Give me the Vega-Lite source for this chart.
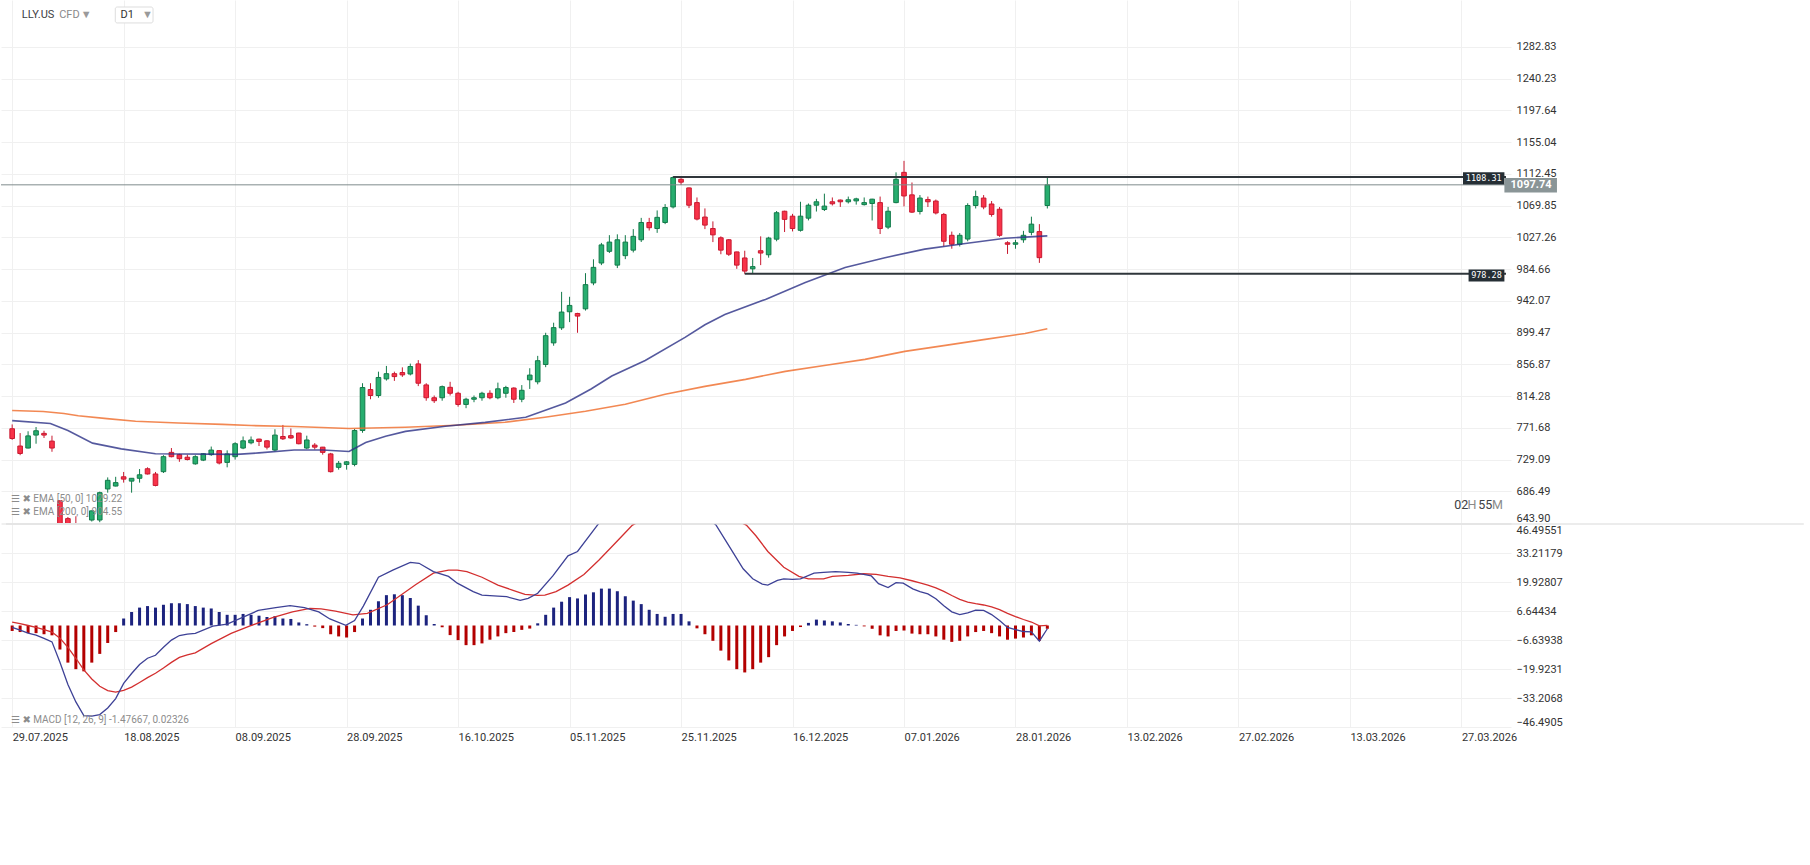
{
  "$schema": "https://vega.github.io/schema/vega-lite/v6.json",
  "padding": 0,
  "background": "white",
  "spacing": 0,
  "config": {
    "view": {"stroke": null},
    "font": "Roboto",
    "axis": {"labelFont": "Roboto", "labelColor": "#333333", "labelFontSize": 11, "gridColor": "#f0f0f0", "gridWidth": 1, "ticks": false, "domain": false, "labelOverlap": false}
  },
  "datasets": {
    "candles": [
      {"i":0,"o":770.4,"h":776.2,"l":755.5,"c":757.3,"m":-2.5},
      {"i":1,"o":747.2,"h":764.6,"l":734.9,"c":737.2,"m":-3},
      {"i":2,"o":744.5,"h":767.0,"l":744.0,"c":760.8,"m":-3.5},
      {"i":3,"o":761.9,"h":772.7,"l":750.3,"c":767.7,"m":-3.5},
      {"i":4,"o":764.2,"h":767.7,"l":758.0,"c":761.9,"m":-4},
      {"i":5,"o":753.8,"h":761.1,"l":739.5,"c":744.5,"m":-4.5},
      {"i":6,"o":673.8,"h":673.8,"l":623.8,"c":640.2,"m":-11},
      {"i":7,"o":649.8,"h":652.0,"l":628.0,"c":636.0,"m":-17},
      {"i":8,"o":641.0,"h":652.9,"l":630.0,"c":634.0,"m":-20},
      {"i":9,"o":634.0,"h":642.0,"l":625.0,"c":638.0,"m":-21},
      {"i":10,"o":647.9,"h":660.5,"l":645.9,"c":660.2,"m":-17},
      {"i":11,"o":647.9,"h":686.0,"l":645.0,"c":684.6,"m":-13},
      {"i":12,"o":689.6,"h":705.1,"l":684.6,"c":701.2,"m":-8},
      {"i":13,"o":693.5,"h":705.9,"l":693.0,"c":698.1,"m":-3},
      {"i":14,"o":705.9,"h":712.4,"l":698.1,"c":702.8,"m":3.2},
      {"i":15,"o":700.1,"h":703.9,"l":684.6,"c":703.9,"m":6.2},
      {"i":16,"o":703.9,"h":716.3,"l":698.1,"c":708.6,"m":8.2},
      {"i":17,"o":716.7,"h":718.6,"l":709.0,"c":709.7,"m":8.9},
      {"i":18,"o":709.7,"h":712.4,"l":693.1,"c":694.3,"m":8.2},
      {"i":19,"o":712.8,"h":734.9,"l":711.0,"c":732.9,"m":9.5},
      {"i":20,"o":738.7,"h":744.5,"l":732.0,"c":732.9,"m":10.2},
      {"i":21,"o":735.6,"h":736.8,"l":726.0,"c":730.2,"m":10.2},
      {"i":22,"o":732.2,"h":735.6,"l":727.9,"c":729.1,"m":9.8},
      {"i":23,"o":723.3,"h":734.9,"l":722.1,"c":732.9,"m":8.9},
      {"i":24,"o":728.3,"h":737.5,"l":727.0,"c":736.8,"m":8.2},
      {"i":25,"o":735.6,"h":746.5,"l":734.0,"c":741.8,"m":7.8},
      {"i":26,"o":741.0,"h":741.5,"l":722.5,"c":724.4,"m":6.2},
      {"i":27,"o":725.2,"h":741.4,"l":718.6,"c":736.6,"m":4.9},
      {"i":28,"o":732.9,"h":752.3,"l":729.0,"c":750.3,"m":4.9},
      {"i":29,"o":744.5,"h":760.0,"l":743.0,"c":754.2,"m":5.3},
      {"i":30,"o":751.5,"h":760.0,"l":749.5,"c":755.3,"m":4.9},
      {"i":31,"o":756.5,"h":757.0,"l":747.2,"c":753.4,"m":4.5},
      {"i":32,"o":754.2,"h":755.0,"l":742.6,"c":745.7,"m":3.9},
      {"i":33,"o":741.8,"h":769.7,"l":740.0,"c":761.9,"m":4.3},
      {"i":34,"o":760.0,"h":775.5,"l":755.3,"c":756.9,"m":3.2},
      {"i":35,"o":761.1,"h":770.8,"l":757.0,"c":758.0,"m":3.0},
      {"i":36,"o":764.6,"h":765.0,"l":749.5,"c":750.3,"m":1.4},
      {"i":37,"o":744.5,"h":761.1,"l":743.0,"c":755.3,"m":0.6},
      {"i":38,"o":748.4,"h":751.1,"l":742.6,"c":745.7,"m":-0.5},
      {"i":39,"o":745.7,"h":746.0,"l":735.6,"c":738.7,"m":-1.2},
      {"i":40,"o":736.6,"h":738.0,"l":711.7,"c":712.8,"m":-4},
      {"i":41,"o":718.6,"h":727.1,"l":715.5,"c":724.0,"m":-5},
      {"i":42,"o":722.5,"h":727.0,"l":715.5,"c":726.0,"m":-5.5},
      {"i":43,"o":722.5,"h":770.0,"l":720.0,"c":768.0,"m":-3},
      {"i":44,"o":768.0,"h":831.5,"l":765.0,"c":825.7,"m":3.2},
      {"i":45,"o":823.0,"h":831.5,"l":810.0,"c":815.0,"m":7.2},
      {"i":46,"o":815.0,"h":847.0,"l":812.0,"c":839.2,"m":11.1},
      {"i":47,"o":837.3,"h":854.7,"l":835.0,"c":844.3,"m":13.9},
      {"i":48,"o":844.3,"h":847.0,"l":834.6,"c":840.4,"m":14.3},
      {"i":49,"o":845.8,"h":852.8,"l":840.0,"c":842.7,"m":13.9},
      {"i":50,"o":843.9,"h":857.8,"l":842.0,"c":853.9,"m":12.6},
      {"i":51,"o":857.4,"h":862.5,"l":827.6,"c":831.5,"m":9.1},
      {"i":52,"o":829.2,"h":831.5,"l":808.0,"c":812.0,"m":4.7},
      {"i":53,"o":812.0,"h":815.0,"l":805.0,"c":808.0,"m":0.7},
      {"i":54,"o":812.0,"h":828.4,"l":808.0,"c":826.9,"m":-0.8},
      {"i":55,"o":826.0,"h":833.4,"l":815.0,"c":818.0,"m":-4.4},
      {"i":56,"o":818.0,"h":820.0,"l":800.0,"c":803.0,"m":-6.7},
      {"i":57,"o":803.0,"h":812.0,"l":798.0,"c":810.0,"m":-9},
      {"i":58,"o":810.0,"h":815.0,"l":806.0,"c":812.0,"m":-9},
      {"i":59,"o":812.0,"h":820.0,"l":808.0,"c":818.0,"m":-8.2},
      {"i":60,"o":818.0,"h":822.0,"l":810.0,"c":812.0,"m":-6.5},
      {"i":61,"o":812.0,"h":832.3,"l":810.0,"c":824.0,"m":-5},
      {"i":62,"o":818.0,"h":828.0,"l":812.0,"c":825.7,"m":-3.5},
      {"i":63,"o":825.0,"h":826.0,"l":805.0,"c":810.0,"m":-3},
      {"i":64,"o":810.0,"h":829.0,"l":806.0,"c":822.0,"m":-2},
      {"i":65,"o":836.1,"h":851.6,"l":823.8,"c":842.4,"m":-1.4},
      {"i":66,"o":833.4,"h":868.2,"l":830.0,"c":861.7,"m":1.0},
      {"i":67,"o":856.6,"h":899.2,"l":853.0,"c":895.3,"m":4.9},
      {"i":68,"o":885.6,"h":912.7,"l":881.8,"c":906.1,"m":8.2},
      {"i":69,"o":905.8,"h":954.1,"l":903.0,"c":927.0,"m":10.9},
      {"i":70,"o":927.4,"h":947.5,"l":913.5,"c":935.9,"m":13.0},
      {"i":71,"o":925.1,"h":926.0,"l":899.2,"c":921.6,"m":12.4},
      {"i":72,"o":931.3,"h":979.2,"l":929.0,"c":963.8,"m":14.2},
      {"i":73,"o":966.1,"h":997.8,"l":963.0,"c":987.0,"m":15.2},
      {"i":74,"o":992.8,"h":1019.8,"l":990.0,"c":1017.1,"m":16.9},
      {"i":75,"o":1008.5,"h":1030.2,"l":1006.2,"c":1020.9,"m":16.9},
      {"i":76,"o":990.0,"h":1031.3,"l":986.0,"c":1024.0,"m":15.7},
      {"i":77,"o":1002.7,"h":1030.2,"l":998.0,"c":1020.9,"m":13.4},
      {"i":78,"o":1010.1,"h":1038.3,"l":1007.0,"c":1028.6,"m":11.4},
      {"i":79,"o":1024.0,"h":1053.4,"l":1021.0,"c":1047.2,"m":9.8},
      {"i":80,"o":1047.2,"h":1053.4,"l":1036.4,"c":1040.2,"m":7.2},
      {"i":81,"o":1039.1,"h":1063.4,"l":1033.3,"c":1054.1,"m":5.3},
      {"i":82,"o":1047.2,"h":1071.9,"l":1045.0,"c":1067.3,"m":4.0},
      {"i":83,"o":1068.1,"h":1109.1,"l":1066.0,"c":1107.5,"m":5.3},
      {"i":84,"o":1105.2,"h":1106.7,"l":1097.5,"c":1101.3,"m":5.3},
      {"i":85,"o":1093.6,"h":1094.0,"l":1066.5,"c":1070.4,"m":1.9},
      {"i":86,"o":1073.9,"h":1080.8,"l":1050.0,"c":1051.8,"m":-1.3},
      {"i":87,"o":1054.5,"h":1066.1,"l":1038.3,"c":1043.7,"m":-4},
      {"i":88,"o":1039.1,"h":1048.7,"l":1020.9,"c":1030.6,"m":-7},
      {"i":89,"o":1026.7,"h":1028.6,"l":1004.6,"c":1010.1,"m":-11.5},
      {"i":90,"o":1024.0,"h":1025.0,"l":1002.3,"c":1004.6,"m":-16},
      {"i":91,"o":1007.7,"h":1008.0,"l":985.0,"c":990.0,"m":-20},
      {"i":92,"o":999.6,"h":1009.3,"l":978.3,"c":982.0,"m":-21.5},
      {"i":93,"o":985.0,"h":999.6,"l":978.5,"c":988.0,"m":-20},
      {"i":94,"o":1009.3,"h":1028.6,"l":990.0,"c":1006.2,"m":-17},
      {"i":95,"o":1003.9,"h":1028.0,"l":1000.0,"c":1026.3,"m":-14.5},
      {"i":96,"o":1024.8,"h":1062.6,"l":1022.0,"c":1060.3,"m":-9},
      {"i":97,"o":1062.3,"h":1063.0,"l":1034.4,"c":1051.4,"m":-5},
      {"i":98,"o":1055.7,"h":1058.8,"l":1035.2,"c":1039.1,"m":-2.5},
      {"i":99,"o":1036.7,"h":1075.0,"l":1035.0,"c":1055.7,"m":-0.7},
      {"i":100,"o":1053.0,"h":1072.7,"l":1050.0,"c":1070.4,"m":1.2},
      {"i":101,"o":1070.4,"h":1078.9,"l":1061.9,"c":1075.0,"m":2.7},
      {"i":102,"o":1064.6,"h":1085.9,"l":1062.6,"c":1069.2,"m":2.3},
      {"i":103,"o":1075.0,"h":1080.8,"l":1070.0,"c":1072.3,"m":1.9},
      {"i":104,"o":1077.3,"h":1078.0,"l":1068.1,"c":1075.0,"m":1.4},
      {"i":105,"o":1075.0,"h":1082.0,"l":1072.7,"c":1077.7,"m":0.7},
      {"i":106,"o":1076.2,"h":1080.4,"l":1071.2,"c":1078.9,"m":0.3},
      {"i":107,"o":1071.2,"h":1080.8,"l":1070.0,"c":1073.9,"m":-0.4},
      {"i":108,"o":1072.7,"h":1079.0,"l":1049.9,"c":1078.5,"m":-1.5},
      {"i":109,"o":1073.9,"h":1082.0,"l":1031.7,"c":1039.1,"m":-4.5},
      {"i":110,"o":1041.0,"h":1068.1,"l":1038.3,"c":1062.3,"m":-5},
      {"i":111,"o":1073.9,"h":1114.5,"l":1073.0,"c":1105.2,"m":-2.5},
      {"i":112,"o":1114.5,"h":1129.9,"l":1068.8,"c":1082.8,"m":-2.3},
      {"i":113,"o":1084.3,"h":1100.9,"l":1060.0,"c":1061.1,"m":-3.7},
      {"i":114,"o":1062.0,"h":1084.0,"l":1058.0,"c":1080.0,"m":-4},
      {"i":115,"o":1078.0,"h":1082.0,"l":1068.0,"c":1075.0,"m":-4},
      {"i":116,"o":1076.0,"h":1078.0,"l":1058.0,"c":1060.0,"m":-5},
      {"i":117,"o":1058.0,"h":1060.0,"l":1015.0,"c":1022.0,"m":-6.5},
      {"i":118,"o":1030.0,"h":1035.0,"l":1012.0,"c":1018.0,"m":-7.5},
      {"i":119,"o":1018.0,"h":1033.0,"l":1015.0,"c":1030.0,"m":-7},
      {"i":120,"o":1025.0,"h":1073.0,"l":1022.0,"c":1070.0,"m":-5},
      {"i":121,"o":1070.0,"h":1090.0,"l":1066.0,"c":1082.0,"m":-3},
      {"i":122,"o":1080.0,"h":1084.0,"l":1065.0,"c":1068.0,"m":-2.5},
      {"i":123,"o":1072.0,"h":1076.0,"l":1055.0,"c":1058.0,"m":-3.5},
      {"i":124,"o":1065.0,"h":1068.0,"l":1028.0,"c":1030.0,"m":-5},
      {"i":125,"o":1020.0,"h":1022.0,"l":1005.0,"c":1018.0,"m":-6.5},
      {"i":126,"o":1018.0,"h":1024.0,"l":1012.0,"c":1020.0,"m":-6},
      {"i":127,"o":1024.0,"h":1036.0,"l":1020.0,"c":1030.0,"m":-5.5},
      {"i":128,"o":1034.0,"h":1055.0,"l":1030.0,"c":1045.0,"m":-4.5},
      {"i":129,"o":1035.0,"h":1045.0,"l":993.0,"c":1000.0,"m":-7},
      {"i":130,"o":1070.0,"h":1108.0,"l":1066.0,"c":1097.74,"m":-1.5}
    ],
    "ema50": [
      {"i":0,"v":781.3},{"i":4.8,"v":777.4},{"i":7,"v":768},{"i":10.1,"v":751.1},{"i":13.7,"v":743.4},{"i":18,"v":736.8},
      {"i":28.2,"v":736.0},{"i":31,"v":738},{"i":35.4,"v":741.8},{"i":39,"v":741.8},{"i":42.3,"v":739.9},{"i":44.4,"v":752},
      {"i":46.9,"v":760.3},{"i":49.4,"v":766.9},{"i":54.4,"v":773.7},{"i":59.4,"v":779.0},{"i":64.5,"v":785.8},{"i":69.5,"v":805},
      {"i":72.7,"v":823.8},{"i":75.3,"v":841.2},{"i":79.5,"v":862},{"i":84.5,"v":893},{"i":87,"v":910},{"i":89.5,"v":923.7},
      {"i":94.6,"v":944},{"i":99.6,"v":966.6},{"i":104.6,"v":986.7},{"i":109.6,"v":1000},{"i":114.6,"v":1011.5},{"i":119.7,"v":1018.9},
      {"i":124.7,"v":1026},{"i":130,"v":1029.22}
    ],
    "ema200": [
      {"i":0,"v":794.8},{"i":3.9,"v":793.6},{"i":6.5,"v":790.9},{"i":8.3,"v":787.8},{"i":11.9,"v":784.0},{"i":15.5,"v":780.5},
      {"i":20.9,"v":778.2},{"i":26.4,"v":776.2},{"i":30,"v":774.7},{"i":35.4,"v":773.5},{"i":42.3,"v":770.8},{"i":49.4,"v":772.4},
      {"i":55.7,"v":775.1},{"i":61.9,"v":779.1},{"i":66.9,"v":785.8},{"i":72,"v":793.8},{"i":77,"v":803.2},{"i":82,"v":816.6},
      {"i":87,"v":827.3},{"i":92.1,"v":836.7},{"i":97.1,"v":847.4},{"i":102.2,"v":855.5},{"i":107.1,"v":863.5},{"i":112.1,"v":874.2},
      {"i":117.2,"v":882.3},{"i":122.2,"v":890.3},{"i":127.2,"v":898.3},{"i":130,"v":904.55}
    ],
    "macd": [
      {"i":0,"v":-0.9},{"i":1,"v":-2.15},{"i":2,"v":-3.5},{"i":3,"v":-4.4},{"i":4,"v":-5.9},{"i":5,"v":-7.5},{"i":6,"v":-16.8},
      {"i":7,"v":-27.0},{"i":8,"v":-35.0},{"i":9,"v":-41.3},{"i":10,"v":-41.5},{"i":11,"v":-40.8},{"i":12,"v":-37.8},{"i":13,"v":-33.5},
      {"i":14,"v":-26.5},{"i":15,"v":-22.0},{"i":16,"v":-17.9},{"i":17,"v":-15.0},{"i":18,"v":-13.65},{"i":19,"v":-10.0},{"i":20,"v":-6.7},
      {"i":21,"v":-4.6},{"i":22,"v":-3.9},{"i":23,"v":-3.6},{"i":25.2,"v":-0.3},{"i":27,"v":0.6},
      {"i":30.9,"v":6.9},{"i":33.1,"v":8.2},{"i":34.9,"v":9.1},{"i":36.7,"v":8.2},{"i":38.5,"v":6.2},{"i":39.9,"v":3.0},{"i":41.9,"v":0.05},
      {"i":43,"v":2.3},{"i":44.1,"v":8.9},{"i":46,"v":22.1},{"i":47.8,"v":25.4},{"i":50,"v":28.9},{"i":51.1,"v":28.5},{"i":52.9,"v":24.7},
      {"i":54.8,"v":22.5},{"i":55.9,"v":19.4},{"i":57.9,"v":15.5},{"i":59,"v":13.9},{"i":61,"v":13.5},{"i":62.1,"v":13.2},{"i":63.8,"v":11.5},
      {"i":64.8,"v":12.4},{"i":66,"v":14.8},{"i":67.9,"v":22.7},{"i":69.8,"v":31.9},{"i":71,"v":33.9},{"i":73.5,"v":46.0},{"i":75,"v":52},
      {"i":77,"v":58},{"i":80,"v":62},{"i":83,"v":60},{"i":86,"v":53},{"i":88.4,"v":46},{"i":89.9,"v":37.2},{"i":91.8,"v":26.0},
      {"i":93,"v":21.4},{"i":94.2,"v":19.0},{"i":94.9,"v":18.5},{"i":96.1,"v":20.7},{"i":96.9,"v":21.4},{"i":98,"v":21.1},{"i":99,"v":21.4},
      {"i":100.7,"v":24.0},{"i":101.9,"v":24.3},{"i":103.4,"v":24.7},{"i":105,"v":24.3},{"i":106.1,"v":24.0},{"i":107.9,"v":22.7},
      {"i":108.8,"v":19.2},{"i":110,"v":17.4},{"i":111,"v":19.6},{"i":111.9,"v":19.4},{"i":113.1,"v":16.8},{"i":114,"v":15.5},
      {"i":115,"v":14.5},{"i":116,"v":12.25},{"i":117,"v":9.1},{"i":118,"v":6.25},{"i":119,"v":5.0},{"i":120,"v":5.75},{"i":121,"v":7.0},
      {"i":122,"v":6.9},{"i":123,"v":5.0},{"i":124,"v":2.25},{"i":125,"v":-0.9},{"i":126,"v":-1.9},{"i":127,"v":-2.75},{"i":128,"v":-2.9},
      {"i":129,"v":-7.15},{"i":130,"v":-1.48}
    ],
    "signal": [
      {"i":0,"v":1.6},{"i":1,"v":0.85},{"i":2,"v":0.0},{"i":3,"v":-0.9},{"i":4,"v":-1.9},{"i":5,"v":-3.0},{"i":6,"v":-5.8},
      {"i":7,"v":-10.0},{"i":8,"v":-15.0},{"i":9,"v":-20.3},{"i":10,"v":-24.5},{"i":11,"v":-27.8},{"i":12,"v":-29.8},{"i":13,"v":-30.5},
      {"i":14,"v":-29.7},{"i":15,"v":-28.2},{"i":16,"v":-26.1},{"i":17,"v":-23.9},{"i":18,"v":-21.85},{"i":19,"v":-19.5},{"i":20,"v":-16.9},
      {"i":21,"v":-14.6},{"i":22,"v":-13.4},{"i":23,"v":-12.5},{"i":25,"v":-8.3},{"i":27.5,"v":-3.6},{"i":29.8,"v":-0.3},
      {"i":32.7,"v":3.6},{"i":35.2,"v":6.2},{"i":37.4,"v":7.8},
      {"i":38.8,"v":7.6},{"i":40.6,"v":6.6},{"i":42.8,"v":4.9},{"i":44.6,"v":5.6},{"i":47.1,"v":9.5},{"i":50.7,"v":18.8},{"i":52.9,"v":24.0},
      {"i":54.8,"v":25.4},{"i":55.9,"v":25.4},{"i":57.1,"v":24.7},{"i":59,"v":22.1},{"i":61,"v":18.5},{"i":62.9,"v":16.1},{"i":64.4,"v":14.3},
      {"i":66,"v":13.8},{"i":66.9,"v":13.9},{"i":68.3,"v":15.5},{"i":69.8,"v":18.5},{"i":71.8,"v":23.4},{"i":73.7,"v":30.0},{"i":75.6,"v":37.2},
      {"i":76.8,"v":41.8},{"i":77.9,"v":46.0},{"i":80,"v":50},{"i":83,"v":54},{"i":86,"v":54.5},{"i":89,"v":51.5},{"i":92.2,"v":46.0},
      {"i":93.4,"v":41.1},{"i":94.9,"v":33.9},{"i":96.9,"v":26.7},{"i":98.8,"v":22.5},{"i":100,"v":21.4},{"i":101.9,"v":21.4},{"i":103,"v":22.5},
      {"i":105,"v":23.0},{"i":106.9,"v":23.7},{"i":108.5,"v":23.4},{"i":110,"v":22.5},{"i":111.5,"v":21.8},{"i":113,"v":20.5},{"i":114,"v":19.5},
      {"i":115,"v":18.5},{"i":116,"v":17.25},{"i":117,"v":15.6},{"i":118,"v":13.75},{"i":119,"v":12.0},{"i":120,"v":10.75},{"i":121,"v":10.0},
      {"i":122,"v":9.4},{"i":123,"v":8.5},{"i":124,"v":7.25},{"i":125,"v":5.6},{"i":126,"v":4.1},{"i":127,"v":2.75},{"i":128,"v":1.6},
      {"i":129,"v":-0.15},{"i":130,"v":0.02}
    ]
  },
  "vconcat": [
    {
      "width": 1510,
      "height": 523,
      "layer": [
        {
          "data": {"name": "candles"},
          "mark": {"type": "rule", "clip": true, "strokeWidth": 1},
          "encoding": {
            "x": {"field": "i", "type": "quantitative", "title": null,
                  "scale": {"domain": [-0.774, 187.6], "nice": false, "zero": false},
                  "axis": {"values": [0,14,28,42,56,70,84,98,112,126,140,154,168,182], "tickCount": 30, "labels": false, "ticks": false, "domain": false, "grid": true, "title": null}},
            "y": {"field": "l", "type": "quantitative", "title": null,
                  "scale": {"domain": [643.9, 1345.8], "nice": false, "zero": false},
                  "axis": {"orient": "right", "values": [643.9,686.49,729.09,771.68,814.28,856.87,899.47,942.07,984.66,1027.26,1069.85,1112.45,1155.04,1197.64,1240.23,1282.83], "tickCount": 40, "format": ".2f", "grid": true, "labelFlush": true, "labelOverlap": false, "labelPadding": 5, "title": null}},
            "y2": {"field": "h"},
            "color": {"condition": {"test": "datum.c >= datum.o", "value": "#137a4a"}, "value": "#c8182f"}
          }
        },
        {
          "data": {"name": "candles"},
          "mark": {"type": "bar", "clip": true, "size": 4.6, "strokeWidth": 1},
          "encoding": {
            "x": {"field": "i", "type": "quantitative", "title": null},
            "y": {"field": "o", "type": "quantitative", "title": null},
            "y2": {"field": "c"},
            "fill": {"condition": {"test": "datum.c >= datum.o", "value": "#27ae6f"}, "value": "#f83349"},
            "stroke": {"condition": {"test": "datum.c >= datum.o", "value": "#137a4a"}, "value": "#c8182f"}
          }
        },
        {
          "data": {"name": "ema200"},
          "mark": {"type": "line", "clip": true, "color": "#ef6a28", "strokeWidth": 1.6, "opacity": 0.8},
          "encoding": {"x": {"field": "i", "type": "quantitative", "title": null}, "y": {"field": "v", "type": "quantitative", "title": null}}
        },
        {
          "data": {"name": "ema50"},
          "mark": {"type": "line", "clip": true, "color": "#2b2f86", "strokeWidth": 1.6, "opacity": 0.8},
          "encoding": {"x": {"field": "i", "type": "quantitative", "title": null}, "y": {"field": "v", "type": "quantitative", "title": null}}
        },
        {
          "data": {"values": [{"v": 1097.74}]},
          "mark": {"type": "rule", "color": "#7f8b8d", "strokeWidth": 1},
          "encoding": {"y": {"field": "v", "type": "quantitative", "title": null}}
        },
        {
          "data": {"values": [{"a": 83, "b": 187.6, "v": 1108.31}, {"a": 92, "b": 187.6, "v": 978.28}]},
          "mark": {"type": "rule", "color": "#2f363b", "strokeWidth": 2},
          "encoding": {
            "x": {"field": "a", "type": "quantitative", "title": null},
            "x2": {"field": "b"},
            "y": {"field": "v", "type": "quantitative", "title": null}
          }
        },
        {
          "data": {"values": [
            {"a": 182.2, "b": 187.4, "lo": 1098.3, "hi": 1114.5},
            {"a": 182.9, "b": 187.4, "lo": 968.0, "hi": 984.2}
          ]},
          "mark": {"type": "rect", "fill": "#252e34"},
          "encoding": {"x": {"field": "a", "type": "quantitative", "title": null}, "x2": {"field": "b"}, "y": {"field": "lo", "type": "quantitative", "title": null}, "y2": {"field": "hi"}}
        },
        {
          "data": {"values": [
            {"t": "1108.31", "tx": 184.8, "ty": 1106.4},
            {"t": "978.28", "tx": 185.15, "ty": 976.1}
          ]},
          "mark": {"type": "text", "color": "#ffffff", "font": "DejaVu Sans Mono", "fontSize": 8.5, "align": "center", "baseline": "middle"},
          "encoding": {"x": {"field": "tx", "type": "quantitative", "title": null}, "y": {"field": "ty", "type": "quantitative", "title": null}, "text": {"field": "t"}}
        },
        {
          "data": {"values": [{"a": 187.4, "b": 194.0, "lo": 1087.5, "hi": 1106.8}]},
          "mark": {"type": "rect", "fill": "#8a9597"},
          "encoding": {"x": {"field": "a", "type": "quantitative", "title": null}, "x2": {"field": "b"}, "y": {"field": "lo", "type": "quantitative", "title": null}, "y2": {"field": "hi"}}
        },
        {
          "data": {"values": [{"t": "1097.74", "tx": 190.75, "ty": 1097.2}]},
          "mark": {"type": "text", "color": "#ffffff", "fontSize": 11, "fontWeight": "bold", "align": "center", "baseline": "middle"},
          "encoding": {"x": {"field": "tx", "type": "quantitative", "title": null}, "y": {"field": "ty", "type": "quantitative", "title": null}, "text": {"field": "t"}}
        },
        {
          "data": {"values": [{"a": 12.95, "b": 17.69, "lo": 1315.0, "hi": 1336.4}]},
          "mark": {"type": "rect", "fill": "#ffffff", "stroke": "#dddddd", "strokeWidth": 1, "cornerRadius": 2},
          "encoding": {"x": {"field": "a", "type": "quantitative", "title": null}, "x2": {"field": "b"}, "y": {"field": "lo", "type": "quantitative", "title": null}, "y2": {"field": "hi"}}
        },
        {
          "data": {"values": [
            {"x": 1.2, "y": 1325.0, "t": "LLY.US", "k": "h"},
            {"x": 5.9, "y": 1325.0, "t": "CFD", "k": "s"},
            {"x": 8.6, "y": 1326.0, "t": "▼", "k": "a"},
            {"x": 13.6, "y": 1325.0, "t": "D1", "k": "d"},
            {"x": 16.3, "y": 1326.0, "t": "▼", "k": "a"}
          ]},
          "mark": {"type": "text", "align": "left", "baseline": "middle"},
          "encoding": {
            "x": {"field": "x", "type": "quantitative", "title": null},
            "y": {"field": "y", "type": "quantitative", "title": null},
            "text": {"field": "t"},
            "fontSize": {"field": "k", "type": "nominal", "scale": {"domain": ["h", "s", "a", "d"], "range": [12, 7, 7, 10]}, "legend": null},
            "fontWeight": {"condition": {"test": "datum.k == 'h'", "value": "bold"}, "value": "normal"},
            "color": {"field": "k", "type": "nominal", "scale": {"domain": ["h", "s", "a", "d"], "range": ["#3d4043", "#8a8a8a", "#9a9a9a", "#333333"]}, "legend": null}
          }
        },
        {
          "data": {"values": [
            {"x": -0.15, "y": 675.9, "t": "☰ ✖ EMA [50, 0] 1029.22"},
            {"x": -0.15, "y": 658.5, "t": "☰ ✖ EMA [200, 0] 904.55"}
          ]},
          "mark": {"type": "text", "align": "left", "baseline": "middle", "fontSize": 10, "color": "#8c8c8c", "font": "Roboto, DejaVu Sans"},
          "encoding": {"x": {"field": "x", "type": "quantitative", "title": null}, "y": {"field": "y", "type": "quantitative", "title": null}, "text": {"field": "t"}}
        },
        {
          "data": {"values": [
            {"x": 181.1, "y": 667.9, "t": "02", "k": "n"},
            {"x": 182.75, "y": 667.9, "t": "H", "k": "u"},
            {"x": 184.1, "y": 667.9, "t": "55", "k": "n"},
            {"x": 185.85, "y": 667.9, "t": "M", "k": "u"}
          ]},
          "mark": {"type": "text", "align": "left", "baseline": "middle", "fontSize": 12.5},
          "encoding": {
            "x": {"field": "x", "type": "quantitative", "title": null},
            "y": {"field": "y", "type": "quantitative", "title": null},
            "text": {"field": "t"},
            "color": {"field": "k", "type": "nominal", "scale": {"domain": ["n", "u"], "range": ["#f7931e", "#c0c0c0"]}, "legend": null}
          }
        }
      ]
    },
    {
      "width": 1510,
      "height": 203,
      "layer": [
        {
          "data": {"name": "candles"},
          "mark": {"type": "bar", "size": 3},
          "encoding": {
            "x": {"field": "i", "type": "quantitative", "title": null,
                  "scale": {"domain": [-0.774, 187.6], "nice": false, "zero": false},
                  "axis": {"values": [0,14,28,42,56,70,84,98,112,126,140,154,168,182], "tickCount": 30, "grid": true, "labelAlign": "left", "labelPadding": 4, "labelFlush": false, "labelOverlap": false, "labelBound": false, "title": null,
                           "labelExpr": "['29.07.2025','18.08.2025','08.09.2025','28.09.2025','16.10.2025','05.11.2025','25.11.2025','16.12.2025','07.01.2026','28.01.2026','13.02.2026','27.02.2026','13.03.2026','27.03.2026'][round(datum.value/14)]"}},
            "y": {"field": "m", "type": "quantitative", "title": null,
                  "scale": {"domain": [-46.4905, 46.49551], "nice": false, "zero": false},
                  "axis": {"orient": "right", "values": [46.49551, 33.21179, 19.92807, 6.64434, -6.63938, -19.9231, -33.2068, -46.4905], "tickCount": 20, "labelExpr": "substring(format(datum.value, '.5f'), 0, 8)", "grid": true, "labelFlush": true, "labelOverlap": false, "labelPadding": 5, "title": null}},
            "y2": {"datum": 0},
            "color": {"condition": {"test": "datum.m >= 0", "value": "#1c237e"}, "value": "#b30000"}
          }
        },
        {
          "data": {"name": "signal"},
          "mark": {"type": "line", "clip": true, "color": "#d32f2f", "strokeWidth": 1.3},
          "encoding": {"x": {"field": "i", "type": "quantitative", "title": null}, "y": {"field": "v", "type": "quantitative", "title": null}}
        },
        {
          "data": {"name": "macd"},
          "mark": {"type": "line", "clip": true, "color": "#3d4196", "strokeWidth": 1.3},
          "encoding": {"x": {"field": "i", "type": "quantitative", "title": null}, "y": {"field": "v", "type": "quantitative", "title": null}}
        },
        {
          "data": {"values": [{"a": -0.774, "b": 225, "v": 46.49551}]},
          "mark": {"type": "rule", "color": "#dadada", "strokeWidth": 1.2},
          "encoding": {"x": {"field": "a", "type": "quantitative", "title": null}, "x2": {"field": "b"}, "y": {"field": "v", "type": "quantitative", "title": null}}
        },
        {
          "data": {"values": [{"x": -0.15, "y": -43.4, "t": "☰ ✖ MACD [12, 26, 9] -1.47667, 0.02326"}]},
          "mark": {"type": "text", "align": "left", "baseline": "middle", "fontSize": 10, "color": "#8c8c8c", "font": "Roboto, DejaVu Sans"},
          "encoding": {"x": {"field": "x", "type": "quantitative", "title": null}, "y": {"field": "y", "type": "quantitative", "title": null}, "text": {"field": "t"}}
        }
      ]
    }
  ]
}
